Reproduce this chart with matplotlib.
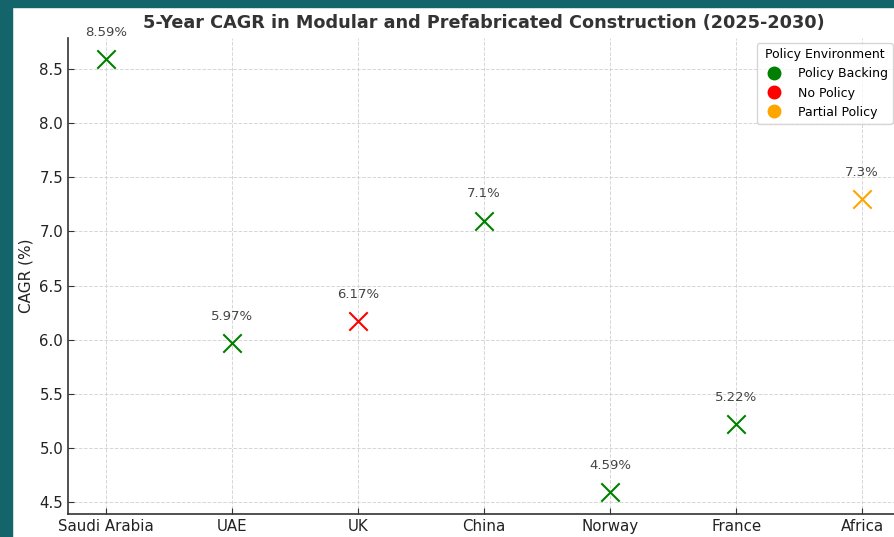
import matplotlib
matplotlib.use("Agg")
import matplotlib.pyplot as plt
from matplotlib.lines import Line2D
from matplotlib.patches import Rectangle

countries = ["Saudi Arabia", "UAE", "UK", "China", "Norway", "France", "Africa"]
cagr = [8.59, 5.97, 6.17, 7.1, 4.59, 5.22, 7.3]
labels = ["8.59%", "5.97%", "6.17%", "7.1%", "4.59%", "5.22%", "7.3%"]
policy = ["Policy Backing", "Policy Backing", "No Policy", "Policy Backing",
          "Policy Backing", "Policy Backing", "Partial Policy"]
policy_order = ["Policy Backing", "No Policy", "Partial Policy"]
policy_colors = {"Policy Backing": "green", "No Policy": "red", "Partial Policy": "orange"}

W, H = 894, 537
fig = plt.figure(figsize=(W / 100, H / 100), dpi=100)
fig.patch.set_facecolor("white")

# teal frame
teal = "#13646b"
fig.patches.append(Rectangle((0, 0), 12 / W, 1, transform=fig.transFigure, color=teal, zorder=0))
fig.patches.append(Rectangle((0, 1 - 7 / H), 1, 7 / H, transform=fig.transFigure, color=teal, zorder=0))

left, right = 68, 900
top, bottom = 37.6, 514
ax = fig.add_axes([left / W, 1 - bottom / H, (right - left) / W, (bottom - top) / H])

xs = list(range(len(countries)))
for x, y, p in zip(xs, cagr, policy):
    ax.scatter(x, y, marker="x", s=175, color=policy_colors[p], linewidths=1.5, zorder=3)
for x, y, t in zip(xs, cagr, labels):
    ax.annotate(t, (x, y), xytext=(0, 14.5), textcoords="offset points",
                ha="center", va="bottom", fontsize=9.5, color="#444444")

ax.set_xticks(xs)
ax.set_xticklabels(countries, fontsize=10.8, color="#222222")
ax.set_xlim(-0.3, 6.3)
ax.set_ylim(4.39, 8.79)
ax.set_yticks([4.5, 5.0, 5.5, 6.0, 6.5, 7.0, 7.5, 8.0, 8.5])
ax.tick_params(axis="y", labelsize=10.8, labelcolor="#222222")
ax.tick_params(direction="in", length=4, color="#333333")
ax.set_ylabel("CAGR (%)", fontsize=11, color="#222222", labelpad=4)
ax.grid(True, linestyle="--", color="#cccccc", linewidth=0.7, alpha=0.8)
ax.set_axisbelow(True)
for s in ["top", "right"]:
    ax.spines[s].set_visible(False)
for s in ["left", "bottom"]:
    ax.spines[s].set_color("#333333")
    ax.spines[s].set_linewidth(1.2)

ax.set_title("5-Year CAGR in Modular and Prefabricated Construction (2025-2030)",
             fontsize=12.7, fontweight="bold", color="#333333", pad=7)

handles = [Line2D([0], [0], marker="o", linestyle="", color=policy_colors[p],
                  markersize=9, label=p) for p in policy_order]
leg = ax.legend(handles=handles, title="Policy Environment", loc="upper right",
                bbox_to_anchor=((893 - left) / (right - left), 1 - (43 - top) / (bottom - top)),
                fontsize=9, title_fontsize=9, frameon=True, borderaxespad=0,
                handletextpad=0.9, labelspacing=0.5)
leg.get_frame().set_edgecolor("#cccccc")

fig.savefig("out.png", dpi=100)
